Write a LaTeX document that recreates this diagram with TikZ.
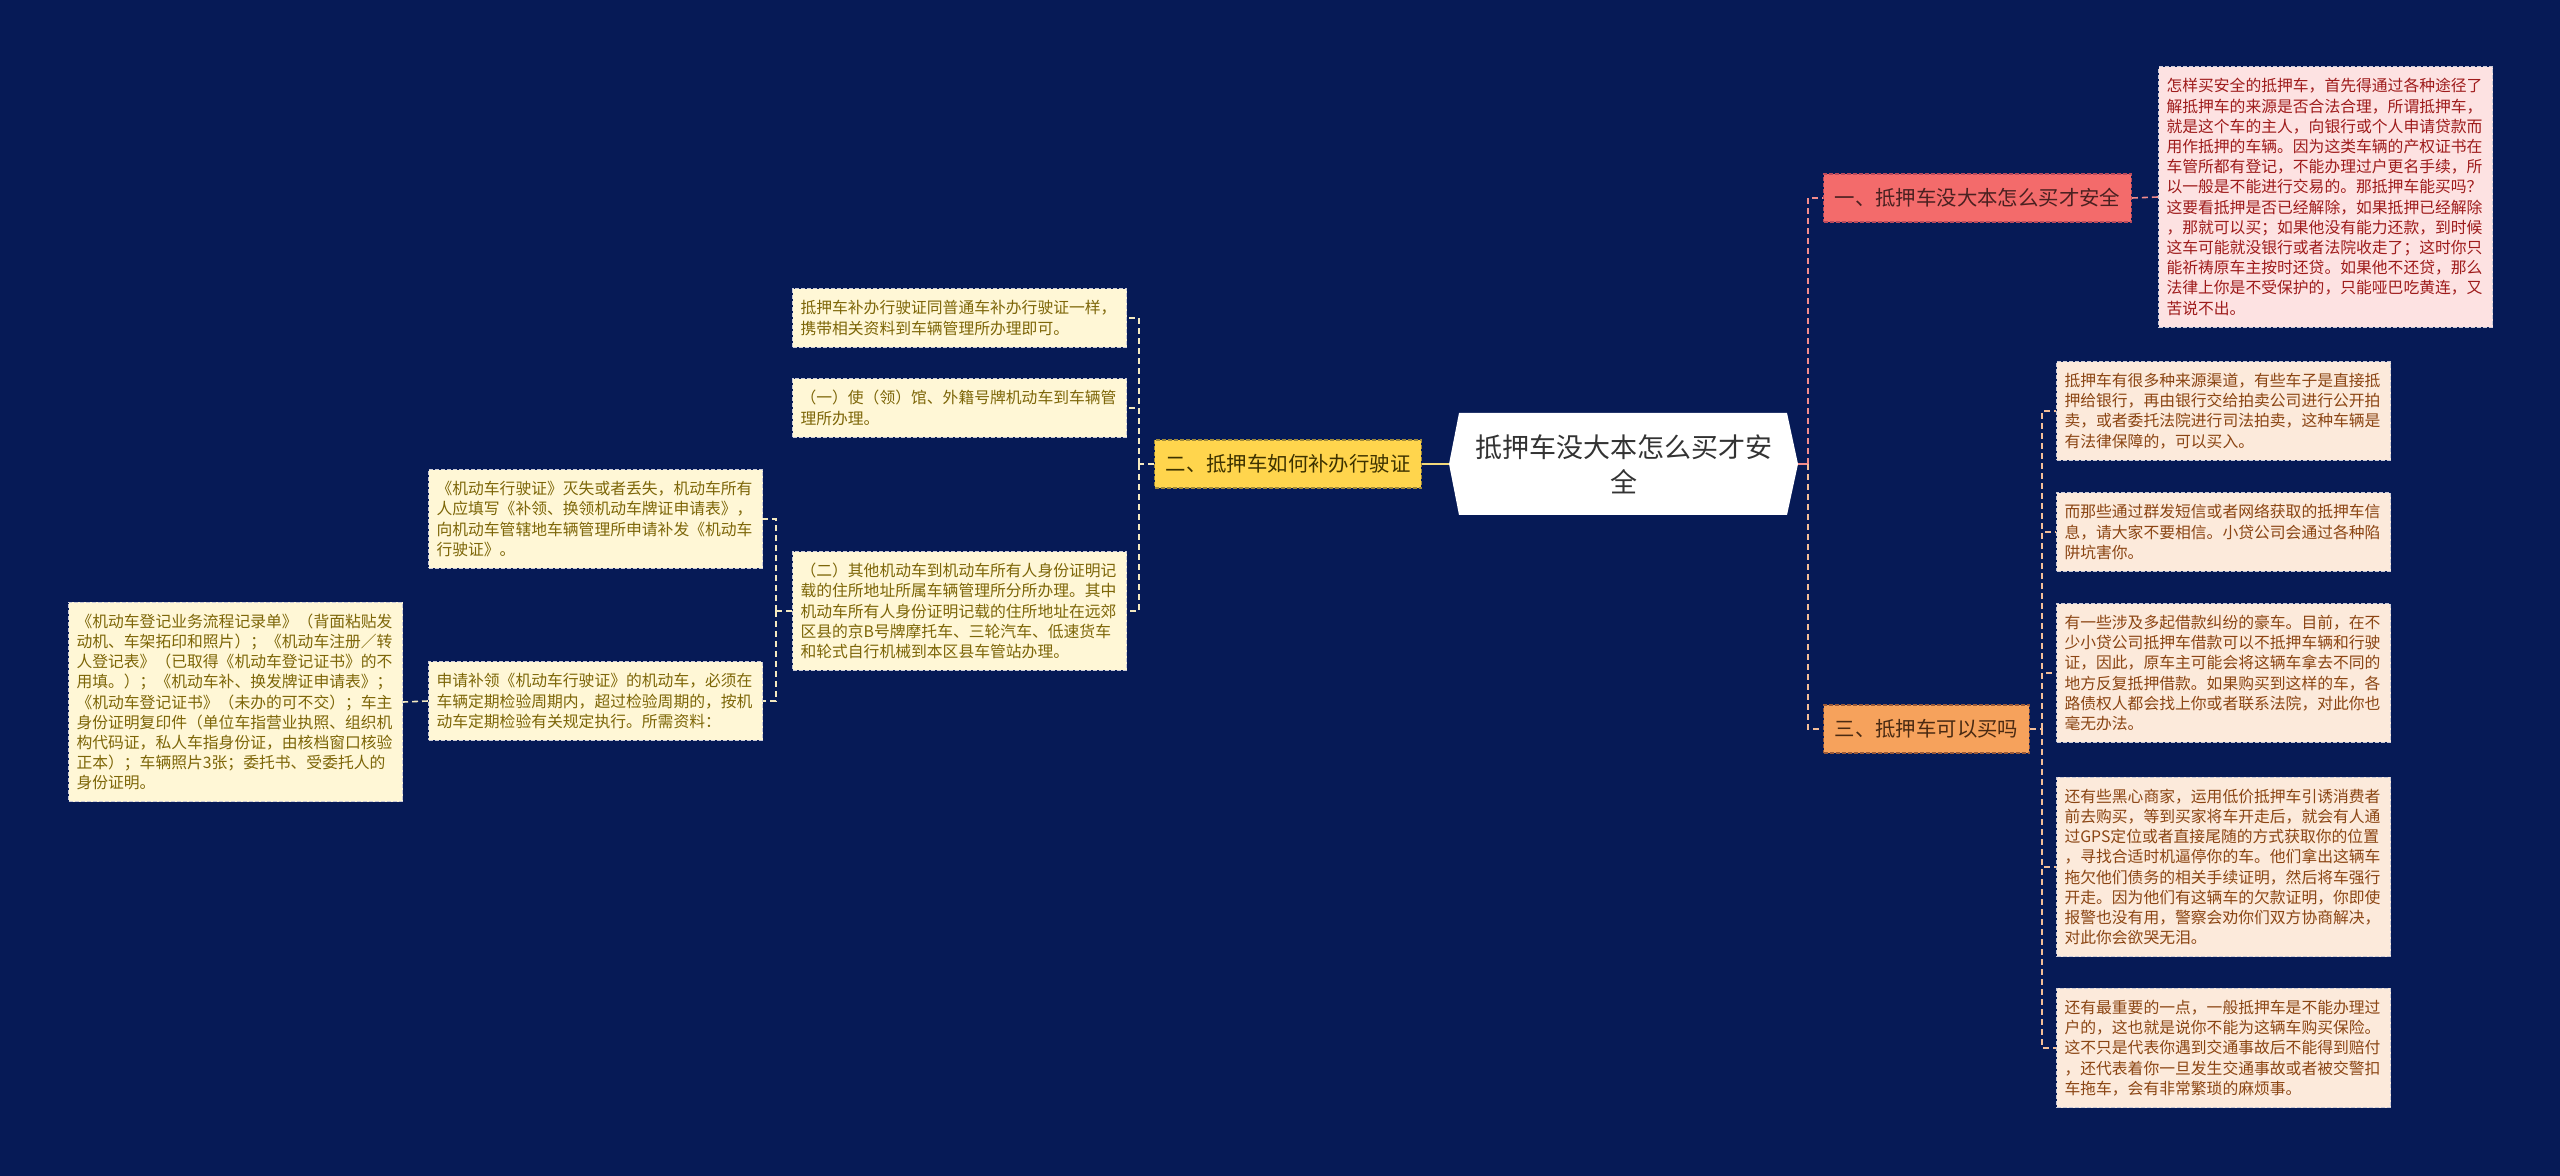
\documentclass[tikz,border=0pt]{standalone}
\usepackage{xcolor}
\usepackage{fontspec}
\usepackage{tikz}
\usetikzlibrary{
  positioning,
  calc
}
\newfontfamily\cjk{Noto Sans CJK SC}
\definecolor{MapNavy}{HTML}{061A56}
\definecolor{MapRed}{HTML}{F36B6B}
\definecolor{MapRedEdge}{HTML}{B94A5C}
\definecolor{MapRedText}{HTML}{4A2020}
\definecolor{MapRedLine}{HTML}{F28B8B}
\definecolor{MapPink}{HTML}{FDE2E2}
\definecolor{MapPinkText}{HTML}{9E1B1B}
\definecolor{MapOrange}{HTML}{F6A25C}
\definecolor{MapOrangeEdge}{HTML}{9A5A3A}
\definecolor{MapOrangeText}{HTML}{4A2A12}
\definecolor{MapOrangeLine}{HTML}{F3BE98}
\definecolor{MapPeach}{HTML}{FCEADB}
\definecolor{MapPeachText}{HTML}{8B4513}
\definecolor{MapYellow}{HTML}{FFD54D}
\definecolor{MapYellowEdge}{HTML}{A08A3A}
\definecolor{MapYellowText}{HTML}{3D3200}
\definecolor{MapYellowLine}{HTML}{F2D87A}
\definecolor{MapCream}{HTML}{FFF7D6}
\definecolor{MapCreamText}{HTML}{7D6608}
\definecolor{MapCreamLine}{HTML}{F3E9C0}
\definecolor{MapEdge}{HTML}{C9C9D6}
\definecolor{MapRoot}{HTML}{333333}

\tikzset{
  rootbox/.style={minimum width=174.5pt,minimum height=51pt,inner sep=0pt,
    align=center,text=MapRoot,font=\cjk\fontsize{13.5pt}{17.5pt}\selectfont},
  branchbox/.style={dash pattern=on 2pt off 1pt,line width=0.6pt,
    minimum height=24pt,inner xsep=5.5pt,inner ysep=0pt,
    font=\cjk\fontsize{10.2pt}{12pt}\selectfont},
  leafbox/.style={draw=MapEdge,dash pattern=on 2pt off 1pt,line width=0.5pt,
    text width=159pt,inner xsep=4pt,inner ysep=5.8pt,align=left,
    font=\cjk\fontsize{7.9pt}{10.1pt}\selectfont},
  pinkleaf/.style={leafbox,fill=MapPink,text=MapPinkText},
  peachleaf/.style={leafbox,fill=MapPeach,text=MapPeachText},
  creamleaf/.style={leafbox,fill=MapCream,text=MapCreamText},
  redlink/.style={draw=MapRedLine,line width=0.8pt,dash pattern=on 3pt off 2pt},
  orangelink/.style={draw=MapOrangeLine,line width=0.8pt,dash pattern=on 3pt off 2pt},
  creamlink/.style={draw=MapCreamLine,line width=0.8pt,dash pattern=on 3pt off 2pt}
}

\begin{document}
\begin{tikzpicture}[x=0.5pt,y=-0.5pt]
        \fill[MapNavy] (0,0) rectangle (2560,1176);
        \fill[white] (1449,464) -- (1459,413) -- (1787,413) -- (1798,464)
          -- (1787,515) -- (1459,515) -- cycle;
        \node[rootbox] (root) at (1623.5,464) {抵押车没大本怎么买才安\\全};

        \node[branchbox,draw=MapRedEdge,fill=MapRed,text=MapRedText,anchor=west]
          (safe) at (1823,198) {一、抵押车没大本怎么买才安全};
        \node[branchbox,draw=MapOrangeEdge,fill=MapOrange,text=MapOrangeText,anchor=west]
          (buy) at (1823,729) {三、抵押车可以买吗};
        \node[branchbox,draw=MapYellowEdge,fill=MapYellow,text=MapYellowText,anchor=east]
          (reissue) at (1422,464) {二、抵押车如何补办行驶证};

        \node[pinkleaf,anchor=west] (safeinfo) at (2158,197) {%
          怎样买安全的抵押车，首先得通过各种途径了\\
          解抵押车的来源是否合法合理，所谓抵押车，\\
          就是这个车的主人，向银行或个人申请贷款而\\
          用作抵押的车辆。因为这类车辆的产权证书在\\
          车管所都有登记，不能办理过户更名手续，所\\
          以一般是不能进行交易的。那抵押车能买吗？\\
          这要看抵押是否已经解除，如果抵押已经解除\\
          ，那就可以买；如果他没有能力还款，到时候\\
          这车可能就没银行或者法院收走了；这时你只\\
          能祈祷原车主按时还贷。如果他不还贷，那么\\
          法律上你是不受保护的，只能哑巴吃黄连，又\\
          苦说不出。};

        \node[peachleaf,anchor=west] (buy1) at (2056,411) {%
          抵押车有很多种来源渠道，有些车子是直接抵\\
          押给银行，再由银行交给拍卖公司进行公开拍\\
          卖，或者委托法院进行司法拍卖，这种车辆是\\
          有法律保障的，可以买入。};
        \node[peachleaf,anchor=west] (buy2) at (2056,532) {%
          而那些通过群发短信或者网络获取的抵押车信\\
          息，请大家不要相信。小贷公司会通过各种陷\\
          阱坑害你。};
        \node[peachleaf,anchor=west] (buy3) at (2056,673) {%
          有一些涉及多起借款纠纷的豪车。目前，在不\\
          少小贷公司抵押车借款可以不抵押车辆和行驶\\
          证，因此，原车主可能会将这辆车拿去不同的\\
          地方反复抵押借款。如果购买到这样的车，各\\
          路债权人都会找上你或者联系法院，对此你也\\
          毫无办法。};
        \node[peachleaf,anchor=west] (buy4) at (2056,867) {%
          还有些黑心商家，运用低价抵押车引诱消费者\\
          前去购买，等到买家将车开走后，就会有人通\\
          过GPS定位或者直接尾随的方式获取你的位置\\
          ，寻找合适时机逼停你的车。他们拿出这辆车\\
          拖欠他们债务的相关手续证明，然后将车强行\\
          开走。因为他们有这辆车的欠款证明，你即使\\
          报警也没有用，警察会劝你们双方协商解决，\\
          对此你会欲哭无泪。};
        \node[peachleaf,anchor=west] (buy5) at (2056,1048) {%
          还有最重要的一点，一般抵押车是不能办理过\\
          户的，这也就是说你不能为这辆车购买保险。\\
          这不只是代表你遇到交通事故后不能得到赔付\\
          ，还代表着你一旦发生交通事故或者被交警扣\\
          车拖车，会有非常繁琐的麻烦事。};

        \node[creamleaf,anchor=east] (reissue1) at (1127,318) {%
          抵押车补办行驶证同普通车补办行驶证一样，\\
          携带相关资料到车辆管理所办理即可。};
        \node[creamleaf,anchor=east] (reissue2) at (1127,408) {%
          （一）使（领）馆、外籍号牌机动车到车辆管\\
          理所办理。};
        \node[creamleaf,anchor=east] (reissue3) at (1127,611) {%
          （二）其他机动车到机动车所有人身份证明记\\
          载的住所地址所属车辆管理所分所办理。其中\\
          机动车所有人身份证明记载的住所地址在远郊\\
          区县的京B号牌摩托车、三轮汽车、低速货车\\
          和轮式自行机械到本区县车管站办理。};
        \node[creamleaf,anchor=east] (lost) at (763,519) {%
          《机动车行驶证》灭失或者丢失，机动车所有\\
          人应填写《补领、换领机动车牌证申请表》，\\
          向机动车管辖地车辆管理所申请补发《机动车\\
          行驶证》。};
        \node[creamleaf,anchor=east] (apply) at (763,701) {%
          申请补领《机动车行驶证》的机动车，必须在\\
          车辆定期检验周期内，超过检验周期的，按机\\
          动车定期检验有关规定执行。所需资料：};
        \node[creamleaf,anchor=east] (papers) at (403,702) {%
          《机动车登记业务流程记录单》（背面粘贴发\\
          动机、车架拓印和照片）；《机动车注册／转\\
          人登记表》（已取得《机动车登记证书》的不\\
          用填。）；《机动车补、换发牌证申请表》；\\
          《机动车登记证书》（未办的可不交）；车主\\
          身份证明复印件（单位车指营业执照、组织机\\
          构代码证，私人车指身份证，由核档窗口核验\\
          正本）；车辆照片3张；委托书、受委托人的\\
          身份证明。};

        \coordinate (rightfork) at (1808,464);
        \coordinate (buyfork) at (2042,729);
        \coordinate (leftfork) at (1139,464);
        \coordinate (reissuefork) at (776,611);

        \draw[MapYellowLine,line width=1.3pt] (root.west) -- (reissue.east);
        \draw[MapRedLine,line width=1.3pt] (root.east) -- (rightfork);
        \draw[redlink] (rightfork) |- (safe.west);
        \draw[orangelink] (rightfork) |- (buy.west);
        \draw[redlink] (safe.east) -- (safeinfo.west);
        \draw[orangelink] (buy.east) -- (buyfork);
        \foreach \i in {1,...,5}
          \draw[orangelink] (buyfork) |- (buy\i.west);
        \draw[creamlink] (reissue.west) -- (leftfork);
        \foreach \i in {1,2,3}
          \draw[creamlink] (leftfork) |- (reissue\i.east);
        \draw[creamlink] (reissue3.west) -- (reissuefork);
        \draw[creamlink] (reissuefork) |- (lost.east);
        \draw[creamlink] (reissuefork) |- (apply.east);
        \draw[creamlink] (apply.west) -- (papers.east);
      \end{tikzpicture}
\end{document}
